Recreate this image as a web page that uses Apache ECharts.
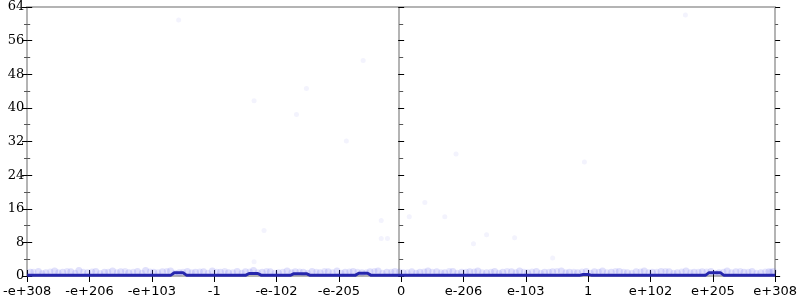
<!DOCTYPE html>
<html>
<head>
<meta charset="utf-8">
<script src="https://cdn.jsdelivr.net/npm/echarts@6/dist/echarts.min.js"></script>
<style>html,body{margin:0;padding:0;background:#fff}#c{width:800px;height:300px}</style>
</head>
<body>
<div id="c"></div>
<script>
// Tick labels of the x axis (positions 0..12)
const xTickLabels = ['-e+308','-e+206','-e+103','-1','-e-102','-e-205','0','e-206','e-103','1','e+102','e+205','e+308'];

// Main (dark) line: x position, count
const lineX = [0, 2.30, 2.36, 2.50, 2.56, 3.50, 3.56, 3.70, 3.76, 4.22, 4.28, 4.48, 4.54, 5.26, 5.32, 5.46, 5.52, 8.86, 8.92, 9.00, 9.06, 10.88, 10.94, 11.12, 11.18, 12];
const lineY = [0.15, 0.15, 0.75, 0.75, 0.15, 0.15, 0.6, 0.6, 0.15, 0.15, 0.55, 0.55, 0.15, 0.15, 0.65, 0.65, 0.15, 0.15, 0.35, 0.35, 0.15, 0.15, 0.8, 0.8, 0.15, 0.15];

// Faint band of samples near the bottom
const bandX = [0.05,0.18,0.30,0.44,0.57,0.70,0.83,0.97,1.10,1.24,1.37,1.50,1.63,1.77,1.90,2.03,2.17,2.30,2.44,2.57,2.70,2.83,2.97,3.10,3.23,3.37,3.50,3.63,3.77,3.90,4.03,4.17,4.30,4.43,4.57,4.70,4.83,4.97,5.10,5.23,5.37,5.50,5.63,5.77,5.90,6.03,6.17,6.30,6.43,6.57,6.70,6.83,6.97,7.10,7.23,7.37,7.50,7.63,7.77,7.90,8.03,8.17,8.30,8.43,8.57,8.70,8.83,8.97,9.10,9.23,9.37,9.50,9.63,9.77,9.90,10.03,10.17,10.30,10.43,10.57,10.70,10.83,10.97,11.10,11.23,11.37,11.50,11.63,11.77,11.90,11.97];
const bandY = [0.9,1.1,0.8,1.2,0.9,1.0,1.3,0.8,1.1,0.9,1.2,1.0,0.8,1.1,1.3,0.9,1.0,1.2,0.8,1.1,0.9,1.0,1.2,0.9,0.8,1.1,1.0,1.3,0.9,1.0,0.8,1.2,1.0,0.9,1.1,0.8,1.0,1.2,0.9,1.1,0.8,1.0,1.2,0.9,1.1,0.8,1.0,0.9,1.2,1.0,0.8,1.1,0.9,1.0,1.2,0.8,1.1,0.9,1.0,1.2,0.8,1.1,0.9,1.0,1.2,0.9,0.8,1.1,1.0,1.2,0.9,1.1,0.8,1.0,1.2,0.9,1.1,1.0,0.8,1.2,0.9,1.0,1.1,0.8,1.2,1.0,0.9,1.1,0.8,1.0,1.1];
// Second, denser layer of the band
const band2X = [0.10,0.24,0.37,0.50,0.64,0.77,0.90,1.04,1.17,1.30,1.44,1.57,1.70,1.84,1.97,2.10,2.24,2.37,2.50,2.64,2.77,2.90,3.04,3.17,3.30,3.44,3.57,3.70,3.84,3.97,4.10,4.24,4.37,4.50,4.64,4.77,4.90,5.04,5.17,5.30,5.44,5.57,5.70,5.84,5.97,6.10,6.24,6.37,6.50,6.64,6.77,6.90,7.04,7.17,7.30,7.44,7.57,7.70,7.84,7.97,8.10,8.24,8.37,8.50,8.64,8.77,8.90,9.04,9.17,9.30,9.44,9.57,9.70,9.84,9.97,10.10,10.24,10.37,10.50,10.64,10.77,10.90,11.04,11.17,11.30,11.44,11.57,11.70,11.84,11.93];
const band2Y = [1.0,0.7,1.1,0.9,1.2,0.8,1.0,1.1,0.7,1.0,0.9,1.2,1.0,0.8,1.1,0.9,1.2,0.8,1.0,0.9,1.1,0.8,1.0,1.2,0.9,0.8,1.1,0.9,1.2,0.8,1.0,0.9,1.1,0.8,1.0,1.2,0.9,0.8,1.1,1.0,0.9,1.2,0.8,1.0,1.1,0.9,0.8,1.1,1.0,0.9,1.2,0.8,1.0,1.1,0.9,1.0,0.8,1.2,0.9,1.0,1.1,0.8,1.0,1.2,0.9,1.0,1.1,0.8,1.0,0.9,1.2,1.0,0.8,1.1,0.9,1.0,1.2,0.8,1.1,0.9,1.0,1.1,0.8,1.0,0.9,1.2,1.0,0.8,1.1,1.0];

// Scattered faint outliers
const outX = [2.43, 3.64, 4.48, 4.32, 5.39, 5.12, 3.80, 5.68, 5.68, 5.78, 6.88, 8.94, 6.38, 6.13, 6.70, 7.37, 7.82, 7.16, 10.56, 8.43, 3.64];
const outY = [60.9, 41.7, 44.6, 38.4, 51.3, 32.1, 10.8, 13.2, 8.9, 8.9, 29.0, 27.1, 17.5, 14.1, 14.1, 9.8, 9.1, 7.7, 62.1, 4.3, 3.4];

const zip = (a, b) => a.map((v, i) => [v, b[i]]);

const grey = '#b4b4b4';
const tickStyle = {color: '#000', width: 1};
const xBase = {type: 'value', min: 0, max: 12, interval: 1, splitLine: {show: false}};
const yBase = {type: 'value', min: 0, max: 64, interval: 8, splitLine: {show: false}};

const yPair = (position, offset, labels) => ([
  Object.assign({}, yBase, {
    position, offset,
    axisLine: {show: true, onZero: false, lineStyle: {color: grey, width: 2}},
    axisTick: {show: true, inside: false, length: 5, lineStyle: tickStyle},
    minorTick: {show: true, splitNumber: 2, length: 3, lineStyle: {color: '#555', width: 1}},
    axisLabel: {show: labels, margin: 3, color: '#000', fontFamily: 'DejaVu Serif', fontSize: 13}
  }),
  Object.assign({}, yBase, {
    position, offset,
    axisLine: {show: false},
    axisTick: {show: true, inside: true, length: 5, lineStyle: tickStyle},
    minorTick: {show: true, splitNumber: 2, length: 3, lineStyle: {color: '#555', width: 1}},
    axisLabel: {show: false}
  })
]);

const option = {
  animation: false,
  grid: {left: 24, right: 24, top: 7, bottom: 24, containLabel: false},
  xAxis: [
    Object.assign({}, xBase, {
      position: 'bottom',
      axisLine: {show: true, onZero: false, lineStyle: {color: grey, width: 2}},
      axisTick: {show: true, inside: false, length: 6, lineStyle: tickStyle},
      axisLabel: {margin: 9, color: '#000', fontFamily: 'DejaVu Sans', fontSize: 13,
        formatter: v => xTickLabels[Math.round(v)]}
    }),
    Object.assign({}, xBase, {
      position: 'bottom',
      axisLine: {show: false},
      axisTick: {show: true, inside: true, length: 6, lineStyle: tickStyle},
      axisLabel: {show: false}
    }),
    Object.assign({}, xBase, {
      position: 'top',
      axisLine: {show: true, onZero: false, lineStyle: {color: grey, width: 2}},
      axisTick: {show: false},
      axisLabel: {show: false}
    })
  ],
  yAxis: [
    ...yPair('left', 0, true),
    ...yPair('right', -376, false),
    ...yPair('right', 0, false)
  ],
  series: [
    {
      type: 'scatter', xAxisIndex: 0, yAxisIndex: 0,
      symbolSize: 7,
      itemStyle: {color: 'rgba(80,80,235,0.22)'},
      data: zip(bandX, bandY), z: 2
    },
    {
      type: 'scatter', xAxisIndex: 0, yAxisIndex: 0,
      symbolSize: 6,
      itemStyle: {color: 'rgba(80,80,235,0.18)'},
      data: zip(band2X, band2Y), z: 2
    },
    {
      type: 'scatter', xAxisIndex: 0, yAxisIndex: 0,
      symbolSize: 5,
      itemStyle: {color: 'rgba(70,70,230,0.08)'},
      data: zip(outX, outY), z: 2
    },
    {
      type: 'line', xAxisIndex: 0, yAxisIndex: 0,
      showSymbol: false, smooth: false,
      lineStyle: {color: '#2626ad', width: 3},
      data: zip(lineX, lineY), z: 5
    }
  ]
};

const chart = echarts.init(document.getElementById('c'), null, {renderer: 'canvas'});
chart.setOption(option);
</script>
</body>
</html>
